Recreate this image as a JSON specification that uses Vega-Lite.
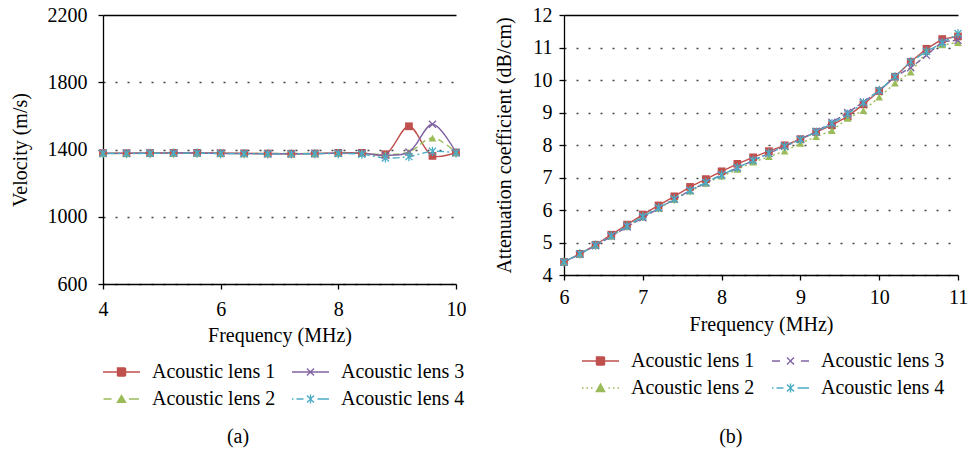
{
  "$schema": "https://vega.github.io/schema/vega-lite/v6.json",
  "background": "white",
  "padding": {"left": 10, "top": 5, "right": 0, "bottom": 5},
  "spacing": 27,
  "datasets": {
    "vel": [
      {"f":4,"v":1378,"s":"Acoustic lens 1"},{"f":4.4,"v":1378,"s":"Acoustic lens 1"},{"f":4.8,"v":1379,"s":"Acoustic lens 1"},{"f":5.2,"v":1380,"s":"Acoustic lens 1"},{"f":5.6,"v":1380,"s":"Acoustic lens 1"},{"f":6,"v":1378,"s":"Acoustic lens 1"},{"f":6.4,"v":1377,"s":"Acoustic lens 1"},{"f":6.8,"v":1376,"s":"Acoustic lens 1"},{"f":7.2,"v":1375,"s":"Acoustic lens 1"},{"f":7.6,"v":1376,"s":"Acoustic lens 1"},{"f":8,"v":1380,"s":"Acoustic lens 1"},{"f":8.4,"v":1380,"s":"Acoustic lens 1"},{"f":8.8,"v":1372,"s":"Acoustic lens 1"},{"f":9.2,"v":1538,"s":"Acoustic lens 1"},{"f":9.6,"v":1362,"s":"Acoustic lens 1"},{"f":10,"v":1382,"s":"Acoustic lens 1"},
      {"f":4,"v":1376,"s":"Acoustic lens 2"},{"f":4.4,"v":1377,"s":"Acoustic lens 2"},{"f":4.8,"v":1378,"s":"Acoustic lens 2"},{"f":5.2,"v":1378,"s":"Acoustic lens 2"},{"f":5.6,"v":1378,"s":"Acoustic lens 2"},{"f":6,"v":1377,"s":"Acoustic lens 2"},{"f":6.4,"v":1376,"s":"Acoustic lens 2"},{"f":6.8,"v":1376,"s":"Acoustic lens 2"},{"f":7.2,"v":1376,"s":"Acoustic lens 2"},{"f":7.6,"v":1376,"s":"Acoustic lens 2"},{"f":8,"v":1378,"s":"Acoustic lens 2"},{"f":8.4,"v":1378,"s":"Acoustic lens 2"},{"f":8.8,"v":1370,"s":"Acoustic lens 2"},{"f":9.2,"v":1385,"s":"Acoustic lens 2"},{"f":9.6,"v":1468,"s":"Acoustic lens 2"},{"f":10,"v":1382,"s":"Acoustic lens 2"},
      {"f":4,"v":1377,"s":"Acoustic lens 3"},{"f":4.4,"v":1377,"s":"Acoustic lens 3"},{"f":4.8,"v":1378,"s":"Acoustic lens 3"},{"f":5.2,"v":1379,"s":"Acoustic lens 3"},{"f":5.6,"v":1379,"s":"Acoustic lens 3"},{"f":6,"v":1377,"s":"Acoustic lens 3"},{"f":6.4,"v":1376,"s":"Acoustic lens 3"},{"f":6.8,"v":1375,"s":"Acoustic lens 3"},{"f":7.2,"v":1375,"s":"Acoustic lens 3"},{"f":7.6,"v":1376,"s":"Acoustic lens 3"},{"f":8,"v":1378,"s":"Acoustic lens 3"},{"f":8.4,"v":1377,"s":"Acoustic lens 3"},{"f":8.8,"v":1366,"s":"Acoustic lens 3"},{"f":9.2,"v":1385,"s":"Acoustic lens 3"},{"f":9.6,"v":1550,"s":"Acoustic lens 3"},{"f":10,"v":1382,"s":"Acoustic lens 3"},
      {"f":4,"v":1376,"s":"Acoustic lens 4"},{"f":4.4,"v":1376,"s":"Acoustic lens 4"},{"f":4.8,"v":1377,"s":"Acoustic lens 4"},{"f":5.2,"v":1378,"s":"Acoustic lens 4"},{"f":5.6,"v":1378,"s":"Acoustic lens 4"},{"f":6,"v":1376,"s":"Acoustic lens 4"},{"f":6.4,"v":1375,"s":"Acoustic lens 4"},{"f":6.8,"v":1374,"s":"Acoustic lens 4"},{"f":7.2,"v":1374,"s":"Acoustic lens 4"},{"f":7.6,"v":1375,"s":"Acoustic lens 4"},{"f":8,"v":1376,"s":"Acoustic lens 4"},{"f":8.4,"v":1372,"s":"Acoustic lens 4"},{"f":8.8,"v":1350,"s":"Acoustic lens 4"},{"f":9.2,"v":1358,"s":"Acoustic lens 4"},{"f":9.6,"v":1389,"s":"Acoustic lens 4"},{"f":10,"v":1380,"s":"Acoustic lens 4"}
    ],
    "att": [
      {"f":6,"v":4.40,"s":"Acoustic lens 1"},{"f":6.2,"v":4.65,"s":"Acoustic lens 1"},{"f":6.4,"v":4.93,"s":"Acoustic lens 1"},{"f":6.6,"v":5.24,"s":"Acoustic lens 1"},{"f":6.8,"v":5.55,"s":"Acoustic lens 1"},{"f":7,"v":5.86,"s":"Acoustic lens 1"},{"f":7.2,"v":6.14,"s":"Acoustic lens 1"},{"f":7.4,"v":6.42,"s":"Acoustic lens 1"},{"f":7.6,"v":6.71,"s":"Acoustic lens 1"},{"f":7.8,"v":6.95,"s":"Acoustic lens 1"},{"f":8,"v":7.19,"s":"Acoustic lens 1"},{"f":8.2,"v":7.42,"s":"Acoustic lens 1"},{"f":8.4,"v":7.62,"s":"Acoustic lens 1"},{"f":8.6,"v":7.81,"s":"Acoustic lens 1"},{"f":8.8,"v":7.99,"s":"Acoustic lens 1"},{"f":9,"v":8.18,"s":"Acoustic lens 1"},{"f":9.2,"v":8.40,"s":"Acoustic lens 1"},{"f":9.4,"v":8.61,"s":"Acoustic lens 1"},{"f":9.6,"v":8.88,"s":"Acoustic lens 1"},{"f":9.8,"v":9.25,"s":"Acoustic lens 1"},{"f":10,"v":9.66,"s":"Acoustic lens 1"},{"f":10.2,"v":10.10,"s":"Acoustic lens 1"},{"f":10.4,"v":10.56,"s":"Acoustic lens 1"},{"f":10.6,"v":10.96,"s":"Acoustic lens 1"},{"f":10.8,"v":11.26,"s":"Acoustic lens 1"},{"f":11,"v":11.34,"s":"Acoustic lens 1"},
      {"f":6,"v":4.40,"s":"Acoustic lens 2"},{"f":6.2,"v":4.64,"s":"Acoustic lens 2"},{"f":6.4,"v":4.91,"s":"Acoustic lens 2"},{"f":6.6,"v":5.19,"s":"Acoustic lens 2"},{"f":6.8,"v":5.49,"s":"Acoustic lens 2"},{"f":7,"v":5.78,"s":"Acoustic lens 2"},{"f":7.2,"v":6.05,"s":"Acoustic lens 2"},{"f":7.4,"v":6.32,"s":"Acoustic lens 2"},{"f":7.6,"v":6.58,"s":"Acoustic lens 2"},{"f":7.8,"v":6.82,"s":"Acoustic lens 2"},{"f":8,"v":7.04,"s":"Acoustic lens 2"},{"f":8.2,"v":7.25,"s":"Acoustic lens 2"},{"f":8.4,"v":7.47,"s":"Acoustic lens 2"},{"f":8.6,"v":7.64,"s":"Acoustic lens 2"},{"f":8.8,"v":7.81,"s":"Acoustic lens 2"},{"f":9,"v":8.05,"s":"Acoustic lens 2"},{"f":9.2,"v":8.26,"s":"Acoustic lens 2"},{"f":9.4,"v":8.44,"s":"Acoustic lens 2"},{"f":9.6,"v":8.82,"s":"Acoustic lens 2"},{"f":9.8,"v":9.06,"s":"Acoustic lens 2"},{"f":10,"v":9.47,"s":"Acoustic lens 2"},{"f":10.2,"v":9.90,"s":"Acoustic lens 2"},{"f":10.4,"v":10.24,"s":"Acoustic lens 2"},{"f":10.6,"v":10.87,"s":"Acoustic lens 2"},{"f":10.8,"v":11.08,"s":"Acoustic lens 2"},{"f":11,"v":11.15,"s":"Acoustic lens 2"},
      {"f":6,"v":4.40,"s":"Acoustic lens 3"},{"f":6.2,"v":4.64,"s":"Acoustic lens 3"},{"f":6.4,"v":4.90,"s":"Acoustic lens 3"},{"f":6.6,"v":5.19,"s":"Acoustic lens 3"},{"f":6.8,"v":5.48,"s":"Acoustic lens 3"},{"f":7,"v":5.76,"s":"Acoustic lens 3"},{"f":7.2,"v":6.05,"s":"Acoustic lens 3"},{"f":7.4,"v":6.33,"s":"Acoustic lens 3"},{"f":7.6,"v":6.60,"s":"Acoustic lens 3"},{"f":7.8,"v":6.84,"s":"Acoustic lens 3"},{"f":8,"v":7.08,"s":"Acoustic lens 3"},{"f":8.2,"v":7.30,"s":"Acoustic lens 3"},{"f":8.4,"v":7.52,"s":"Acoustic lens 3"},{"f":8.6,"v":7.74,"s":"Acoustic lens 3"},{"f":8.8,"v":7.96,"s":"Acoustic lens 3"},{"f":9,"v":8.17,"s":"Acoustic lens 3"},{"f":9.2,"v":8.42,"s":"Acoustic lens 3"},{"f":9.4,"v":8.70,"s":"Acoustic lens 3"},{"f":9.6,"v":9.00,"s":"Acoustic lens 3"},{"f":9.8,"v":9.32,"s":"Acoustic lens 3"},{"f":10,"v":9.68,"s":"Acoustic lens 3"},{"f":10.2,"v":10.10,"s":"Acoustic lens 3"},{"f":10.4,"v":10.38,"s":"Acoustic lens 3"},{"f":10.6,"v":10.76,"s":"Acoustic lens 3"},{"f":10.8,"v":11.18,"s":"Acoustic lens 3"},{"f":11,"v":11.22,"s":"Acoustic lens 3"},
      {"f":6,"v":4.40,"s":"Acoustic lens 4"},{"f":6.2,"v":4.65,"s":"Acoustic lens 4"},{"f":6.4,"v":4.92,"s":"Acoustic lens 4"},{"f":6.6,"v":5.21,"s":"Acoustic lens 4"},{"f":6.8,"v":5.51,"s":"Acoustic lens 4"},{"f":7,"v":5.80,"s":"Acoustic lens 4"},{"f":7.2,"v":6.07,"s":"Acoustic lens 4"},{"f":7.4,"v":6.34,"s":"Acoustic lens 4"},{"f":7.6,"v":6.60,"s":"Acoustic lens 4"},{"f":7.8,"v":6.85,"s":"Acoustic lens 4"},{"f":8,"v":7.08,"s":"Acoustic lens 4"},{"f":8.2,"v":7.30,"s":"Acoustic lens 4"},{"f":8.4,"v":7.53,"s":"Acoustic lens 4"},{"f":8.6,"v":7.75,"s":"Acoustic lens 4"},{"f":8.8,"v":7.96,"s":"Acoustic lens 4"},{"f":9,"v":8.17,"s":"Acoustic lens 4"},{"f":9.2,"v":8.40,"s":"Acoustic lens 4"},{"f":9.4,"v":8.66,"s":"Acoustic lens 4"},{"f":9.6,"v":8.95,"s":"Acoustic lens 4"},{"f":9.8,"v":9.30,"s":"Acoustic lens 4"},{"f":10,"v":9.68,"s":"Acoustic lens 4"},{"f":10.2,"v":10.10,"s":"Acoustic lens 4"},{"f":10.4,"v":10.56,"s":"Acoustic lens 4"},{"f":10.6,"v":10.88,"s":"Acoustic lens 4"},{"f":10.8,"v":11.14,"s":"Acoustic lens 4"},{"f":11,"v":11.43,"s":"Acoustic lens 4"}
    ]
  },
  "hconcat": [
    {
      "width": 353,
      "height": 269,
      "data": {"name": "vel"},
      "title": {"text": "(a)", "orient": "bottom", "frame": "bounds", "anchor": "middle", "offset": 18, "font": "Liberation Serif", "fontSize": 20, "fontWeight": "normal", "color": "black"},
      "encoding": {
        "x": {"field": "f", "type": "quantitative", "scale": {"domain": [4, 10], "nice": false}, "axis": {"values": [4, 6, 8, 10], "format": "d", "labelFlush": false, "title": "Frequency (MHz)", "grid": false, "labelPadding": 10, "titlePadding": 6}},
        "y": {"field": "v", "type": "quantitative", "scale": {"domain": [600, 2200], "nice": false, "zero": false}, "axis": {"values": [600, 1000, 1400, 1800, 2200], "format": "d", "labelFlush": false, "labelOverlap": false, "title": "Velocity (m/s)", "grid": true, "labelPadding": 11, "titlePadding": 17, "gridDash": {"condition": {"test": "datum.value == 2200", "value": [1, 0]}, "value": [2, 10]}, "gridColor": {"condition": {"test": "datum.value == 2200", "value": "black"}, "value": "#444444"}}},
        "color": {"field": "s", "type": "nominal", "scale": {"domain": ["Acoustic lens 1", "Acoustic lens 2", "Acoustic lens 3", "Acoustic lens 4"], "range": ["#C0504D", "#9BBB59", "#8064A2", "#4BACC6"]},
          "legend": {"orient": "none", "legendX": 7.5, "legendY": 346, "values": ["Acoustic lens 1", "Acoustic lens 2", "Acoustic lens 3", "Acoustic lens 4"], "title": null, "columns": 2, "columnPadding": 13, "rowPadding": 6, "symbolSize": 400, "symbolStrokeWidth": 1.4, "labelOffset": 19.5, "labelFont": "Liberation Serif", "labelFontSize": 20, "labelColor": "black", "labelLimit": 300,
            "encode": {"symbols": {"update": {
              "shape": {"signal": "datum.value == 'Acoustic lens 1' ? 'M-1.85,0H1.85M-0.4,-0.4H0.4V0.4H-0.4Z' : datum.value == 'Acoustic lens 2' ? 'M-1.8,0H-1.0M0.75,0H1.75M0,-0.35L0.4,0.32L-0.4,0.32Z' : datum.value == 'Acoustic lens 3' ? 'M-1.85,0H1.85M-0.35,-0.35L0.35,0.35M-0.35,0.35L0.35,-0.35' : 'M-1.85,0H-1.7M-1.4,0H-0.7M0.7,0H1.85M-0.35,-0.35L0.35,0.35M-0.35,0.35L0.35,-0.35M0,-0.45V0.45'"},
              "fill": {"signal": "datum.value == 'Acoustic lens 1' ? '#C0504D' : datum.value == 'Acoustic lens 2' ? '#9BBB59' : 'transparent'"},
              "stroke": {"signal": "datum.value == 'Acoustic lens 1' ? '#C0504D' : datum.value == 'Acoustic lens 2' ? '#9BBB59' : datum.value == 'Acoustic lens 3' ? '#8064A2' : '#4BACC6'"},
              "strokeDash": {"value": [1, 0]},
              "opacity": {"value": 1}
            }}}}}
      },
      "layer": [
        {
          "transform": [{"filter": "datum.s == 'Acoustic lens 1'"}],
          "mark": {"type": "line", "interpolate": "catmull-rom", "strokeWidth": 1.4}
        },
        {
          "transform": [{"filter": "datum.s == 'Acoustic lens 2'"}],
          "mark": {"type": "line", "interpolate": "catmull-rom", "strokeWidth": 1.4, "strokeDash": [6, 4]}
        },
        {
          "transform": [{"filter": "datum.s == 'Acoustic lens 3'"}],
          "mark": {"type": "line", "interpolate": "catmull-rom", "strokeWidth": 1.4}
        },
        {
          "transform": [{"filter": "datum.s == 'Acoustic lens 4'"}],
          "mark": {"type": "line", "interpolate": "catmull-rom", "strokeWidth": 1.4, "strokeDash": [2, 3, 7, 3]}
        },
        {
          "transform": [{"filter": "datum.s == 'Acoustic lens 1'"}],
          "mark": {"type": "point", "shape": "square", "filled": true, "size": 60, "opacity": 1}
        },
        {
          "transform": [{"filter": "datum.s == 'Acoustic lens 2'"}],
          "mark": {"type": "point", "shape": "triangle-up", "filled": true, "size": 60, "opacity": 1}
        },
        {
          "transform": [{"filter": "datum.s == 'Acoustic lens 3'"}],
          "mark": {"type": "point", "shape": "M-1,-1L1,1M-1,1L1,-1", "filled": false, "size": 50, "strokeWidth": 1.3, "opacity": 1}
        },
        {
          "transform": [{"filter": "datum.s == 'Acoustic lens 4'"}],
          "mark": {"type": "point", "shape": "M-1,-1L1,1M-1,1L1,-1M0,-1.3V1.3", "filled": false, "size": 50, "strokeWidth": 1.3, "opacity": 1}
        }
      ]
    },
    {
      "width": 394,
      "height": 260,
      "data": {"name": "att"},
      "title": {"text": "(b)", "orient": "bottom", "frame": "bounds", "anchor": "middle", "offset": 29, "font": "Liberation Serif", "fontSize": 20, "fontWeight": "normal", "color": "black"},
      "encoding": {
        "x": {"field": "f", "type": "quantitative", "scale": {"domain": [6, 11], "nice": false}, "axis": {"values": [6, 7, 8, 9, 10, 11], "format": "d", "labelFlush": false, "title": "Frequency (MHz)", "grid": false, "labelPadding": 7, "titlePadding": 7}},
        "y": {"field": "v", "type": "quantitative", "scale": {"domain": [4, 12], "nice": false, "zero": false}, "axis": {"values": [4, 5, 6, 7, 8, 9, 10, 11, 12], "format": "d", "labelFlush": false, "labelOverlap": false, "title": "Attenuation coefficient (dB/cm)", "grid": true, "labelPadding": 7, "titlePadding": 18, "gridDash": {"condition": {"test": "datum.value == 12", "value": [1, 0]}, "value": [2, 10]}, "gridColor": {"condition": {"test": "datum.value == 12", "value": "black"}, "value": "#444444"}}},
        "color": {"field": "s", "type": "nominal", "scale": {"domain": ["Acoustic lens 1", "Acoustic lens 2", "Acoustic lens 3", "Acoustic lens 4"], "range": ["#C0504D", "#9BBB59", "#8064A2", "#4BACC6"]},
          "legend": {"orient": "none", "legendX": 25.5, "legendY": 335, "values": ["Acoustic lens 1", "Acoustic lens 2", "Acoustic lens 3", "Acoustic lens 4"], "title": null, "columns": 2, "columnPadding": 14, "rowPadding": 6, "symbolSize": 400, "symbolStrokeWidth": 1.4, "labelOffset": 19.5, "labelFont": "Liberation Serif", "labelFontSize": 20, "labelColor": "black", "labelLimit": 300,
            "encode": {"symbols": {"update": {
              "shape": {"signal": "datum.value == 'Acoustic lens 1' ? 'M-1.85,0H1.85M-0.4,-0.4H0.4V0.4H-0.4Z' : datum.value == 'Acoustic lens 2' ? 'M-1.85,0H-1.7M-1.4,0H-1.25M-0.95,0H-0.8M0.8,0H0.95M1.25,0H1.4M1.7,0H1.85M0,-0.4L0.42,0.35L-0.42,0.35Z' : datum.value == 'Acoustic lens 3' ? 'M-1.85,0H-1.05M1.05,0H1.85M-0.35,-0.35L0.35,0.35M-0.35,0.35L0.35,-0.35' : 'M-1.85,0H-1.7M-1.4,0H-0.7M0.7,0H1.85M-0.35,-0.35L0.35,0.35M-0.35,0.35L0.35,-0.35M0,-0.45V0.45'"},
              "fill": {"signal": "datum.value == 'Acoustic lens 1' ? '#C0504D' : datum.value == 'Acoustic lens 2' ? '#9BBB59' : 'transparent'"},
              "stroke": {"signal": "datum.value == 'Acoustic lens 1' ? '#C0504D' : datum.value == 'Acoustic lens 2' ? '#9BBB59' : datum.value == 'Acoustic lens 3' ? '#8064A2' : '#4BACC6'"},
              "strokeDash": {"value": [1, 0]},
              "opacity": {"value": 1}
            }}}}}
      },
      "layer": [
        {
          "transform": [{"filter": "datum.s == 'Acoustic lens 1'"}],
          "mark": {"type": "line", "strokeWidth": 1.4}
        },
        {
          "transform": [{"filter": "datum.s == 'Acoustic lens 2'"}],
          "mark": {"type": "line", "strokeWidth": 1.4, "strokeDash": [2, 3]}
        },
        {
          "transform": [{"filter": "datum.s == 'Acoustic lens 3'"}],
          "mark": {"type": "line", "strokeWidth": 1.4, "strokeDash": [6, 3]}
        },
        {
          "transform": [{"filter": "datum.s == 'Acoustic lens 4'"}],
          "mark": {"type": "line", "strokeWidth": 1.4, "strokeDash": [2, 3, 7, 3]}
        },
        {
          "transform": [{"filter": "datum.s == 'Acoustic lens 1'"}],
          "mark": {"type": "point", "shape": "square", "filled": true, "size": 60, "opacity": 1}
        },
        {
          "transform": [{"filter": "datum.s == 'Acoustic lens 2'"}],
          "mark": {"type": "point", "shape": "triangle-up", "filled": true, "size": 60, "opacity": 1}
        },
        {
          "transform": [{"filter": "datum.s == 'Acoustic lens 3'"}],
          "mark": {"type": "point", "shape": "M-1,-1L1,1M-1,1L1,-1", "filled": false, "size": 50, "strokeWidth": 1.3, "opacity": 1}
        },
        {
          "transform": [{"filter": "datum.s == 'Acoustic lens 4'"}],
          "mark": {"type": "point", "shape": "M-1,-1L1,1M-1,1L1,-1M0,-1.3V1.3", "filled": false, "size": 50, "strokeWidth": 1.3, "opacity": 1}
        }
      ]
    }
  ],
  "resolve": {
    "scale": {"color": "independent"},
    "legend": {"color": "independent"}
  },
  "config": {
    "font": "Liberation Serif",
    "view": {"stroke": null},
    "axis": {"domainColor": "black", "domainWidth": 1.3, "tickColor": "black", "tickSize": 5, "tickWidth": 1.3, "labelFont": "Liberation Serif", "labelFontSize": 20, "labelColor": "black", "titleFont": "Liberation Serif", "titleFontSize": 20, "titleFontWeight": "normal", "titleColor": "black", "gridWidth": 1.4}
  }
}
